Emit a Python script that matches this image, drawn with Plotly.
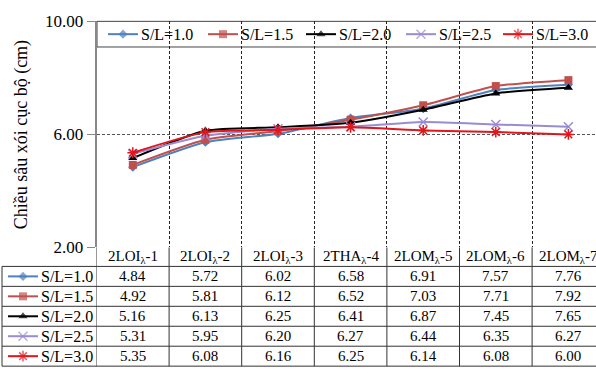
import plotly.graph_objects as go

# ---- data -------------------------------------------------------------
categories = ["2LOI<sub>λ</sub>-1", "2LOI<sub>λ</sub>-2", "2LOI<sub>λ</sub>-3",
              "2THA<sub>λ</sub>-4", "2LOM<sub>λ</sub>-5", "2LOM<sub>λ</sub>-6",
              "2LOM<sub>λ</sub>-7"]
series_names = ["S/L=1.0", "S/L=1.5", "S/L=2.0", "S/L=2.5", "S/L=3.0"]
sl_10 = [4.84, 5.72, 6.02, 6.58, 6.91, 7.57, 7.76]
sl_15 = [4.92, 5.81, 6.12, 6.52, 7.03, 7.71, 7.92]
sl_20 = [5.16, 6.13, 6.25, 6.41, 6.87, 7.45, 7.65]
sl_25 = [5.31, 5.95, 6.20, 6.27, 6.44, 6.35, 6.27]
sl_30 = [5.35, 6.08, 6.16, 6.25, 6.14, 6.08, 6.00]
y_ticks = [2, 6, 10]
y_tick_labels = ["2.00", "6.00", "10.00"]
y_title = "Chiều sâu xói cục bộ (cm)"

series_values = [sl_10, sl_15, sl_20, sl_25, sl_30]

# ---- styles -----------------------------------------------------------
W, H = 596, 379
FONT = "Liberation Serif, Times New Roman, serif"
styles = [
    dict(color="#4F81BD", symbol="diamond", size=7, lw=0),
    dict(color="#C0504D", symbol="square", size=8, lw=0),
    dict(color="#000000", symbol="triangle-up", size=8, lw=0),
    dict(color="#9B8BD0", symbol="x-thin", size=9, lw=1.5),
    dict(color="#E0161B", symbol="asterisk", size=9, lw=1.5),
]

# plot area geometry (pixels)
px_left, cat_w = 96.5, 72.6
py_top, py_bot = 13, 251
x_hi = (W - px_left) / cat_w - 0.5          # right edge in category units
row_lines = [271, 292, 313, 334, 355, 376]   # table horizontal rules
row_mid = [281.5, 302.5, 323.5, 344.5, 365.5]
header_mid = 261


def py(p):
    """pixel y -> paper y"""
    return 1 - p / H


xs = list(range(len(categories)))

fig = go.Figure()

# ---- data series --------------------------------------------------------
for name, vals, st in zip(series_names, series_values, styles):
    fig.add_trace(go.Scatter(
        x=xs, y=vals, name=name, mode="lines+markers",
        line=dict(color=st["color"], width=2, shape="spline", smoothing=0.6),
        marker=dict(symbol=st["symbol"], size=st["size"], color=st["color"],
                    line=dict(color=st["color"], width=st["lw"])),
        showlegend=False, cliponaxis=False,
    ))

# ---- legend keys (top legend + table row headers) on a pixel overlay ----
legend_x = [108, 208, 306, 406, 503]
legend_y = 26.5
for i, st in enumerate(styles):
    for (x0, yc) in [(legend_x[i], legend_y), (8, row_mid[i])]:
        fig.add_trace(go.Scatter(
            x=[x0, x0 + 15, x0 + 30], y=[yc, yc, yc],
            xaxis="x2", yaxis="y2", mode="lines+markers",
            line=dict(color=st["color"], width=2),
            marker=dict(symbol=st["symbol"], size=[0, st["size"], 0],
                        color=st["color"],
                        line=dict(color=st["color"], width=st["lw"])),
            showlegend=False, hoverinfo="skip", cliponaxis=False,
        ))

shapes = []
annotations = []

# top legend box
shapes.append(dict(type="rect", xref="paper", yref="paper",
                   x0=97 / W, x1=1.01, y0=py(40), y1=py(13),
                   line=dict(color="#444", width=1), fillcolor="white",
                   layer="below"))
for i, name in enumerate(series_names):
    annotations.append(dict(xref="paper", yref="paper",
                            x=(legend_x[i] + 31) / W, y=py(legend_y),
                            xanchor="left", yanchor="middle", showarrow=False,
                            text=name, font=dict(family=FONT, size=16, color="black")))

# ---- data table ---------------------------------------------------------
line_c = "#333"
for yl in row_lines:
    shapes.append(dict(type="line", xref="paper", yref="paper",
                       x0=2 / W, x1=1, y0=py(yl), y1=py(yl),
                       line=dict(color=line_c, width=1)))
shapes.append(dict(type="line", xref="paper", yref="paper",
                   x0=2 / W, x1=2 / W, y0=py(row_lines[0]), y1=py(row_lines[-1]),
                   line=dict(color=line_c, width=1)))
for k in range(len(categories)):
    xb = k + 0.5
    shapes.append(dict(type="line", xref="x", yref="paper",
                       x0=xb, x1=xb, y0=py(py_bot), y1=py(row_lines[-1]),
                       line=dict(color=line_c, width=1)))
shapes.append(dict(type="line", xref="x", yref="paper",
                   x0=-0.5, x1=-0.5, y0=py(py_bot), y1=py(row_lines[-1]),
                   line=dict(color=line_c, width=1)))

for k, cat in enumerate(categories):
    annotations.append(dict(xref="x", yref="paper", x=k, y=py(header_mid),
                            text=cat, showarrow=False, xanchor="center",
                            yanchor="middle",
                            font=dict(family=FONT, size=15, color="black")))
    for r, vals in enumerate(series_values):
        annotations.append(dict(xref="x", yref="paper", x=k, y=py(row_mid[r]),
                                text=f"{vals[k]:.2f}", showarrow=False,
                                xanchor="center", yanchor="middle",
                                font=dict(family=FONT, size=15, color="black")))
for r, name in enumerate(series_names):
    annotations.append(dict(xref="paper", yref="paper", x=39 / W, y=py(row_mid[r]),
                            text=name, showarrow=False, xanchor="left",
                            yanchor="middle",
                            font=dict(family=FONT, size=16, color="black")))

# y-axis title
annotations.append(dict(xref="paper", yref="paper", x=21 / W, y=py(133),
                        text=y_title, textangle=-90, showarrow=False,
                        xanchor="center", yanchor="middle",
                        font=dict(family=FONT, size=18, color="black")))

fig.update_layout(
    width=W, height=H,
    margin=dict(l=0, r=0, t=0, b=0),
    paper_bgcolor="white", plot_bgcolor="rgba(0,0,0,0)",
    xaxis=dict(domain=[px_left / W, 1], range=[-0.5, x_hi],
               tickvals=[k + 0.5 for k in range(len(categories))],
               showticklabels=False, ticks="", zeroline=False,
               showgrid=True, gridcolor="#222", gridwidth=1, griddash="3px,2px",
               showline=False),
    yaxis=dict(domain=[py(py_bot), py(py_top)], range=[2, 10],
               tickvals=y_ticks, ticktext=y_tick_labels,
               ticks="outside", ticklen=8, tickcolor="#888",
               tickfont=dict(family=FONT, size=17, color="black"),
               showgrid=True, gridcolor="#555", gridwidth=1, griddash="3px,2px",
               showline=True, linecolor="#888", linewidth=1.5, zeroline=False),
    xaxis2=dict(domain=[0, 1], range=[0, W], visible=False, anchor="y2"),
    yaxis2=dict(domain=[0, 1], range=[H, 0], visible=False, anchor="x2"),
    shapes=shapes,
    annotations=annotations,
    showlegend=False,
)

fig.write_html("out.html")
